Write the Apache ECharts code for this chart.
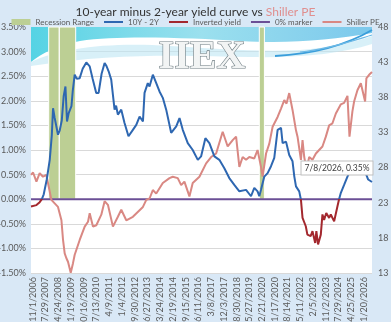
<!DOCTYPE html>
<html>
<head>
<meta charset="utf-8">
<script src="https://cdn.jsdelivr.net/npm/echarts@6.0.0/dist/echarts.min.js"></script>
<style>
  html, body { margin: 0; padding: 0; }
  #chart { width: 391px; height: 322px; }
</style>
</head>
<body>
<div id="chart"></div>
<script>
// 10Y - 2Y spread (%)
var spreadDates = ['2006-09-25','2006-11-01','2007-01-18','2007-03-28','2007-05-13','2007-06-22','2007-08-25','2007-10-27','2007-12-10','2008-01-05',
  '2008-02-09','2008-04-19','2008-05-26','2008-07-08','2008-08-18','2008-09-24','2008-10-27','2008-12-02','2009-01-29','2009-02-26',
  '2009-04-08','2009-05-20','2009-07-23','2009-09-24','2009-12-10','2010-02-20','2010-04-23','2010-07-08','2010-08-28','2010-10-30',
  '2011-01-02','2011-02-13','2011-03-28','2011-05-22','2011-08-01','2011-09-02','2011-10-10','2011-12-21','2012-02-28','2012-05-22',
  '2012-08-23','2012-11-03','2013-01-12','2013-03-24','2013-04-27','2013-07-05','2013-08-11','2013-10-20','2013-12-31','2014-03-10',
  '2014-05-19','2014-07-30','2014-11-12','2015-02-28','2015-05-08','2015-07-16','2015-10-30','2016-02-12','2016-05-30','2016-08-07',
  '2016-11-06','2017-01-30','2017-05-16','2017-08-29','2017-12-13','2018-03-28','2018-07-12','2018-10-27','2019-03-18','2019-07-01',
  '2019-09-09','2019-11-17','2019-12-24','2020-01-29','2020-04-08','2020-06-17','2020-08-28','2020-11-05','2021-01-15','2021-03-28',
  '2021-05-01','2021-07-12','2021-09-18','2021-11-27','2022-01-04','2022-02-08','2022-04-18','2022-05-24','2022-06-27','2022-09-04',
  '2022-10-08','2022-12-16','2023-01-24','2023-03-22','2023-04-16','2023-05-22','2023-06-14','2023-07-19','2023-08-23','2023-09-27',
  '2023-11-12','2024-01-12','2024-02-16','2024-04-27','2024-07-05','2024-08-09','2024-09-16','2024-11-24','2024-12-31','2025-02-03',
  '2025-03-11','2025-06-24','2025-10-08','2025-12-12','2026-02-16','2026-04-18','2026-07-08'];
var spreadValues = [-0.15,-0.15,-0.12,-0.06,0.0,0.1,0.4,0.8,1.3,1.85,
  1.65,1.31,1.4,1.6,2.1,2.29,1.58,1.75,1.89,2.2,
  2.53,2.45,2.46,2.65,2.78,2.70,2.45,2.16,2.16,2.55,
  2.77,2.70,2.60,2.43,1.82,1.90,1.72,1.82,1.55,1.28,
  1.41,1.51,1.68,1.58,2.16,2.36,2.29,2.53,2.36,2.19,
  2.06,1.82,1.35,1.48,1.65,1.41,1.14,1.0,0.80,0.87,
  1.24,1.14,0.87,0.80,0.63,0.43,0.29,0.16,0.19,0.06,
  0.23,0.16,0.06,0.19,0.46,0.53,0.67,0.84,1.41,1.45,
  1.14,1.17,0.9,0.77,0.46,0.26,0.16,-0.01,-0.38,-0.55,
  -0.72,-0.75,-0.65,-0.89,-0.65,-0.92,-0.96,-0.72,-0.31,-0.42,
  -0.28,-0.38,-0.31,-0.45,-0.15,0.0,0.13,0.29,0.33,0.46,
  0.53,0.60,0.60,0.66,0.55,0.40,0.35];

// Shiller PE
var peDates = ['2006-09-25','2006-11-08','2007-01-18','2007-03-28','2007-06-06','2007-08-17','2007-09-20','2007-12-01','2008-02-09','2008-04-19',
  '2008-07-01','2008-08-04','2008-09-08','2008-10-14','2008-11-17','2009-01-14','2009-03-03','2009-04-08','2009-07-23','2009-11-06',
  '2010-01-15','2010-02-20','2010-04-30','2010-07-10','2010-10-24','2011-01-02','2011-03-13','2011-06-27','2011-10-10','2011-12-21',
  '2012-04-05','2012-08-23','2013-03-24','2013-06-03','2013-08-11','2013-10-20','2013-12-31','2014-05-19','2014-10-08','2014-12-16',
  '2015-04-01','2015-06-12','2015-08-20','2015-12-04','2016-02-12','2016-07-03','2016-11-22','2017-03-08','2017-06-22','2017-11-08',
  '2018-02-22','2018-06-08','2018-08-19','2018-10-27','2019-01-05','2019-03-18','2019-05-26','2019-09-09','2019-11-17','2019-12-08',
  '2020-01-29','2020-03-03','2020-05-15','2020-07-23','2020-10-01','2021-01-15','2021-03-28','2021-06-05','2021-07-23','2021-09-18',
  '2021-11-27','2022-02-08','2022-03-13','2022-05-24','2022-06-27','2022-08-02','2022-09-19','2022-11-15','2023-01-24','2023-04-06',
  '2023-06-14','2023-08-23','2023-11-03','2024-01-12','2024-03-22','2024-06-02','2024-09-16','2024-11-24','2025-02-03','2025-03-18',
  '2025-05-19','2025-06-24','2025-09-02','2025-11-13','2025-12-17','2026-02-12','2026-03-11','2026-05-08','2026-07-08'];
var peValues = [26.95,27.3,26.0,27.2,26.7,26.95,25.8,23.4,22.9,22.4,
  20.5,17.7,15.8,15.1,14.6,13.05,14.4,15.6,17.7,19.6,
  20.3,21.5,19.6,19.8,21.3,23.2,22.7,19.6,21.0,22.0,
  20.5,21.0,22.4,23.4,23.6,24.8,24.3,25.8,26.5,26.7,
  26.5,25.5,26.0,23.9,25.8,26.7,28.6,29.5,30.0,33.1,
  31.0,31.9,32.4,28.1,29.5,29.1,29.5,29.3,30.5,30.7,
  28.1,26.7,30.0,31.4,33.8,35.2,36.4,37.6,37.1,38.6,
  36.2,33.3,32.4,29.1,31.9,29.5,27.7,29.5,29.1,30.0,
  30.5,31.0,32.4,34.0,34.3,35.7,37.0,37.2,38.2,32.4,
  36.0,37.4,39.0,40.0,39.75,37.4,40.7,41.2,41.6];

// recession ranges
var recessionStart = ['2007-10-05','2008-05-18','2019-12-24'];
var recessionEnd   = ['2008-05-14','2009-04-29','2020-04-10'];

var xTickLabels = ['11/1/2006','7/29/2007','4/24/2008','1/19/2009','10/16/2009','7/13/2010','4/9/2011','1/4/2012','9/30/2012',
  '6/27/2013','3/24/2014','12/19/2014','9/15/2015','6/11/2016','3/8/2017','12/3/2017','8/30/2018','5/27/2019','2/21/2020',
  '11/17/2020','8/14/2021','5/11/2022','2/5/2023','11/2/2023','7/29/2024','4/25/2025','1/20/2026'];
var peTicks = [13,18,23,28,33,38,43,48];
var lastLabel = '7/8/2026, 0.35%';

var GREEN = '#bccf94', BLUE = '#2e67b1', RED = '#a3282e', PURPLE = '#6b4f96', PINK = '#d98883';
var NOSYM = {color: 'rgba(0,0,0,0)', borderWidth: 0, opacity: 0};

// dates -> UTC ms so a plain value axis can be used
function ymd(s){
  var p = s.split('-');
  return Date.UTC(+p[0], +p[1]-1, +p[2]);
}
function mdy(s){
  var p = s.split('/');
  return Date.UTC(+p[2], +p[0]-1, +p[1]);
}
function fmtMDY(v){
  var d = new Date(v);
  return (d.getUTCMonth()+1)+'/'+d.getUTCDate()+'/'+d.getUTCFullYear();
}

// background swoosh shapes (decoration only)
echarts.graphic.registerShape('swooshTop', echarts.graphic.extendPath(
  'M31,27 L372,27 L372,33 C330,40 290,44 240,41 C190,38 120,35 80,41 C58,45 42,53 31,62 Z', {}));
echarts.graphic.registerShape('swooshBand', echarts.graphic.extendPath(
  'M31,62 C60,48 110,42 170,46 C220,49 260,52 300,50 C330,48 355,42 372,36 L372,44 C340,54 300,58 250,57 C190,56 120,52 31,66 Z', {}));

var spreadData = spreadDates.map(function(d,i){ return [ymd(d), spreadValues[i]]; });
var peData = peDates.map(function(d,i){ return [ymd(d), peValues[i]]; });
var recessionAreas = recessionStart.map(function(d,i){
  return [{coord: [ymd(d), 0]}, {coord: [ymd(recessionEnd[i]), 3.5]}];
});
var xMin = ymd('2006-09-25'), xMax = ymd('2026-07-08');

var myChart = echarts.init(document.getElementById('chart'));
var option = {
  backgroundColor: '#d9e8f6',
  animation: false,
  textStyle: {fontFamily: 'Lato, "Open Sans", sans-serif'},
  title: {
    text: '{a|10-year minus 2-year yield curve vs }{b|Shiller PE}',
    left: 'center',
    top: 1,
    textStyle: {
      rich: {
        a: {fontSize: 12, fontWeight: 'normal', color: '#333', fontFamily: 'Lato, sans-serif'},
        b: {fontSize: 12, fontWeight: 'normal', color: '#e08f8f', fontFamily: 'Lato, sans-serif'}
      }
    }
  },
  legend: {
    top: 18,
    left: 'center',
    padding: 0,
    itemWidth: 19,
    itemHeight: 6,
    itemGap: 9,
    textStyle: {fontSize: 8, color: '#595959'},
    data: [
      {name: 'Recession Range', icon: 'rect', itemStyle: {color: GREEN}},
      {name: '10Y - 2Y', itemStyle: NOSYM, lineStyle: {color: BLUE, width: 2}},
      {name: 'Inverted yield', itemStyle: NOSYM, lineStyle: {color: RED, width: 2}},
      {name: '0% marker', itemStyle: NOSYM, lineStyle: {color: PURPLE, width: 2}},
      {name: 'Shiller PE', itemStyle: NOSYM, lineStyle: {color: PINK, width: 2}}
    ]
  },
  grid: {
    left: 31, right: 19, top: 27, bottom: 49,
    outerBoundsMode: 'none',
    show: true, backgroundColor: '#ffffff', borderWidth: 0
  },
  graphic: [
    {
      type: 'swooshTop', z: 1, silent: true,
      style: {
        fill: {type: 'linear', x: 0, y: 0, x2: 1, y2: 0, colorStops: [
          {offset: 0, color: '#55d3e4'}, {offset: 0.5, color: '#9be0ee'}, {offset: 1, color: '#7cc8ec'}]}
      }
    },
    {
      type: 'swooshBand', z: 1, silent: true,
      style: {fill: 'rgba(190,230,244,0.6)'}
    },
    {
      type: 'bezierCurve', z: 1, silent: true,
      shape: {x1: 275, y1: 56, cpx1: 315, cpy1: 54, cpx2: 348, cpy2: 44, x2: 372, y2: 30},
      style: {fill: null, stroke: '#3a9edb', lineWidth: 2}
    },
    {
      type: 'bezierCurve', z: 1, silent: true,
      shape: {x1: 300, y1: 52, cpx1: 330, cpy1: 49, cpx2: 355, cpy2: 40, x2: 372, y2: 35},
      style: {fill: null, stroke: '#6cb9e6', lineWidth: 1.2}
    },
    {
      type: 'text', z: 1, silent: true,
      left: 158, top: 37,
      style: {
        text: 'IIEX',
        font: 'bold 40px "Liberation Serif", "DejaVu Serif", serif',
        fill: '#f2f4f4',
        stroke: '#6f7d83',
        lineWidth: 1.2,
        shadowColor: 'rgba(0,0,0,0.35)',
        shadowBlur: 3,
        shadowOffsetX: 2,
        shadowOffsetY: 2
      }
    }
  ],
  visualMap: {
    show: false,
    type: 'piecewise',
    seriesIndex: 1,
    dimension: 1,
    pieces: [
      {gte: -5, lt: 0, color: RED},
      {gte: 0, lte: 5, color: BLUE}
    ]
  },
  xAxis: {
    type: 'value',
    min: xMin,
    max: xMax,
    axisLine: {show: false},
    axisTick: {show: false},
    splitLine: {show: false},
    axisLabel: {
      rotate: 90,
      fontSize: 9,
      color: '#595959',
      margin: 4,
      hideOverlap: false,
      customValues: xTickLabels.map(mdy),
      formatter: function(v){ return fmtMDY(v); }
    }
  },
  yAxis: [
    {
      type: 'value',
      min: -1.5, max: 3.5, interval: 0.5,
      axisLine: {show: false},
      axisTick: {show: false},
      splitLine: {lineStyle: {color: '#d9d9d9', width: 1}},
      axisLabel: {
        fontSize: 9, color: '#595959', margin: 5,
        formatter: function(v){ return v.toFixed(2) + '%'; }
      }
    },
    {
      type: 'value',
      min: 13, max: 48,
      position: 'right',
      axisLine: {show: false},
      axisTick: {show: false},
      splitLine: {show: false},
      axisLabel: {
        fontSize: 9, color: '#595959', margin: 6,
        customValues: peTicks
      }
    }
  ],
  series: [
    {
      name: 'Recession Range',
      type: 'line',
      data: [],
      symbol: 'none',
      itemStyle: {color: GREEN},
      markArea: {
        silent: true,
        itemStyle: {color: GREEN, borderColor: '#ffffff', borderWidth: 1},
        data: recessionAreas
      }
    },
    {
      name: '10Y - 2Y',
      type: 'line',
      data: spreadData,
      symbol: 'none',
      z: 4,
      lineStyle: {width: 2},
      markPoint: {
        symbol: 'circle',
        symbolSize: 0,
        data: [{coord: spreadData[spreadData.length-1]}],
        label: {
          show: true,
          formatter: lastLabel,
          offset: [-35, -14],
          fontSize: 8.5,
          color: '#404040',
          backgroundColor: '#ffffff',
          borderColor: '#bfbfbf',
          borderWidth: 1,
          padding: [2, 3]
        }
      }
    },
    {
      name: 'Inverted yield',
      type: 'line',
      data: [],
      symbol: 'none',
      itemStyle: {color: RED},
      lineStyle: {color: RED, width: 2}
    },
    {
      name: '0% marker',
      type: 'line',
      data: [[xMin, 0], [xMax, 0]],
      symbol: 'none',
      z: 3,
      itemStyle: {color: PURPLE},
      lineStyle: {color: PURPLE, width: 2}
    },
    {
      name: 'Shiller PE',
      type: 'line',
      yAxisIndex: 1,
      data: peData,
      symbol: 'none',
      z: 3,
      itemStyle: {color: PINK},
      lineStyle: {color: PINK, width: 2}
    }
  ]
};
myChart.setOption(option);
</script>
</body>
</html>
